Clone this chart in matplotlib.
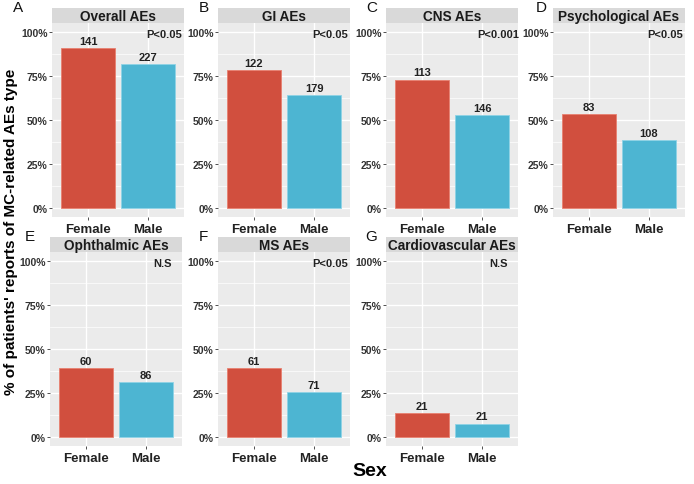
import matplotlib.pyplot as plt
import numpy as np

plt.rcParams['font.family'] = ['Liberation Sans', 'DejaVu Sans']

# panel data
letters = ['A', 'B', 'C', 'D', 'E', 'F', 'G']
titles = ['Overall AEs', 'GI AEs', 'CNS AEs', 'Psychological AEs',
          'Ophthalmic AEs', 'MS AEs', 'Cardiovascular AEs']
sexes = ['Female', 'Male']
female_pct = [0.908, 0.784, 0.729, 0.533, 0.390, 0.393, 0.137]
male_pct = [0.815, 0.643, 0.527, 0.386, 0.311, 0.256, 0.077]
female_n = [141, 122, 113, 83, 60, 61, 21]
male_n = [227, 179, 146, 108, 86, 71, 21]
pvals = ['P<0.05', 'P<0.05', 'P<0.001', 'P<0.05', 'N.S', 'P<0.05', 'N.S']

RED = '#D14F3E'
BLUE = '#4DB5D2'
PANEL_BG = '#EBEBEB'
STRIP_BG = '#D9D9D9'

W, H = 694, 485
fig = plt.figure(figsize=(W / 100, H / 100), dpi=100)

# panel boxes in pixels: left, top of plot area, width, height
lefts = [52, 218, 386, 553, 50, 218, 386]
tops = [24, 24, 24, 24, 253, 253, 253]
letter_x = [13, 199, 366, 536, 25, 199, 365]
pw, ph = 132, 194
strip_h = 15

for i in range(7):
    l, t = lefts[i], tops[i]
    ax = fig.add_axes([l / W, 1 - (t + ph) / H, pw / W, ph / H])
    ax.set_facecolor(PANEL_BG)
    vals = [female_pct[i], male_pct[i]]
    counts = [female_n[i], male_n[i]]
    xs = np.arange(2)
    ax.bar(xs, vals, width=0.9, color=[RED, BLUE], edgecolor=['#E88070', '#8FD3E6'],
           linewidth=0.6, zorder=3)
    for x, v, c in zip(xs, vals, counts):
        ax.text(x, v + 0.012, str(c), ha='center', va='bottom', fontsize=8,
                fontweight='bold', color='#222222', zorder=4)
    ax.text(1.27, 0.985, pvals[i], ha='center', va='center', fontsize=8,
            fontweight='bold', color='#222222', zorder=4)
    ax.set_xlim(-0.6, 1.6)
    ax.set_ylim(-0.05, 1.05)
    ax.set_yticks([0, 0.25, 0.5, 0.75, 1.0])
    ax.set_yticklabels(['0%', '25%', '50%', '75%', '100%'])
    ax.set_yticks([0.125, 0.375, 0.625, 0.875], minor=True)
    ax.set_xticks(xs)
    ax.set_xticklabels(sexes)
    ax.grid(True, which='major', color='white', linewidth=1.0, zorder=0)
    ax.grid(True, which='minor', axis='y', color='white', linewidth=0.5, zorder=0)
    ax.tick_params(axis='y', which='major', length=2, width=0.6, color='#333333',
                   labelsize=7.5, pad=1, labelcolor='#333333')
    ax.tick_params(axis='y', which='minor', length=0)
    ax.tick_params(axis='x', length=2, width=0.6, color='#333333',
                   labelsize=9.5, pad=2, labelcolor='#222222')
    for lab in ax.get_yticklabels() + ax.get_xticklabels():
        lab.set_fontweight('bold')
    for s in ax.spines.values():
        s.set_visible(False)

    # strip on top
    sax = fig.add_axes([l / W, 1 - t / H, pw / W, strip_h / H])
    sax.set_facecolor(STRIP_BG)
    sax.set_xticks([])
    sax.set_yticks([])
    for s in sax.spines.values():
        s.set_visible(False)
    sax.text(0.5, 0.45, titles[i], ha='center', va='center', fontsize=9.8,
             fontweight='bold', color='#1a1a1a', transform=sax.transAxes)

    # panel letter
    fig.text(letter_x[i] / W, 1 - (t - 16) / H, letters[i], ha='left', va='center',
             fontsize=11, color='#111111')

fig.text(11 / W, 1 - 232 / H, "% of patients' reports of MC-related AEs type",
         rotation=90, ha='center', va='center', fontsize=11, fontweight='bold')
fig.text(370 / W, 1 - 472 / H, 'Sex', ha='center', va='center', fontsize=14,
         fontweight='bold')

fig.savefig('out.png', dpi=100, facecolor='white')
